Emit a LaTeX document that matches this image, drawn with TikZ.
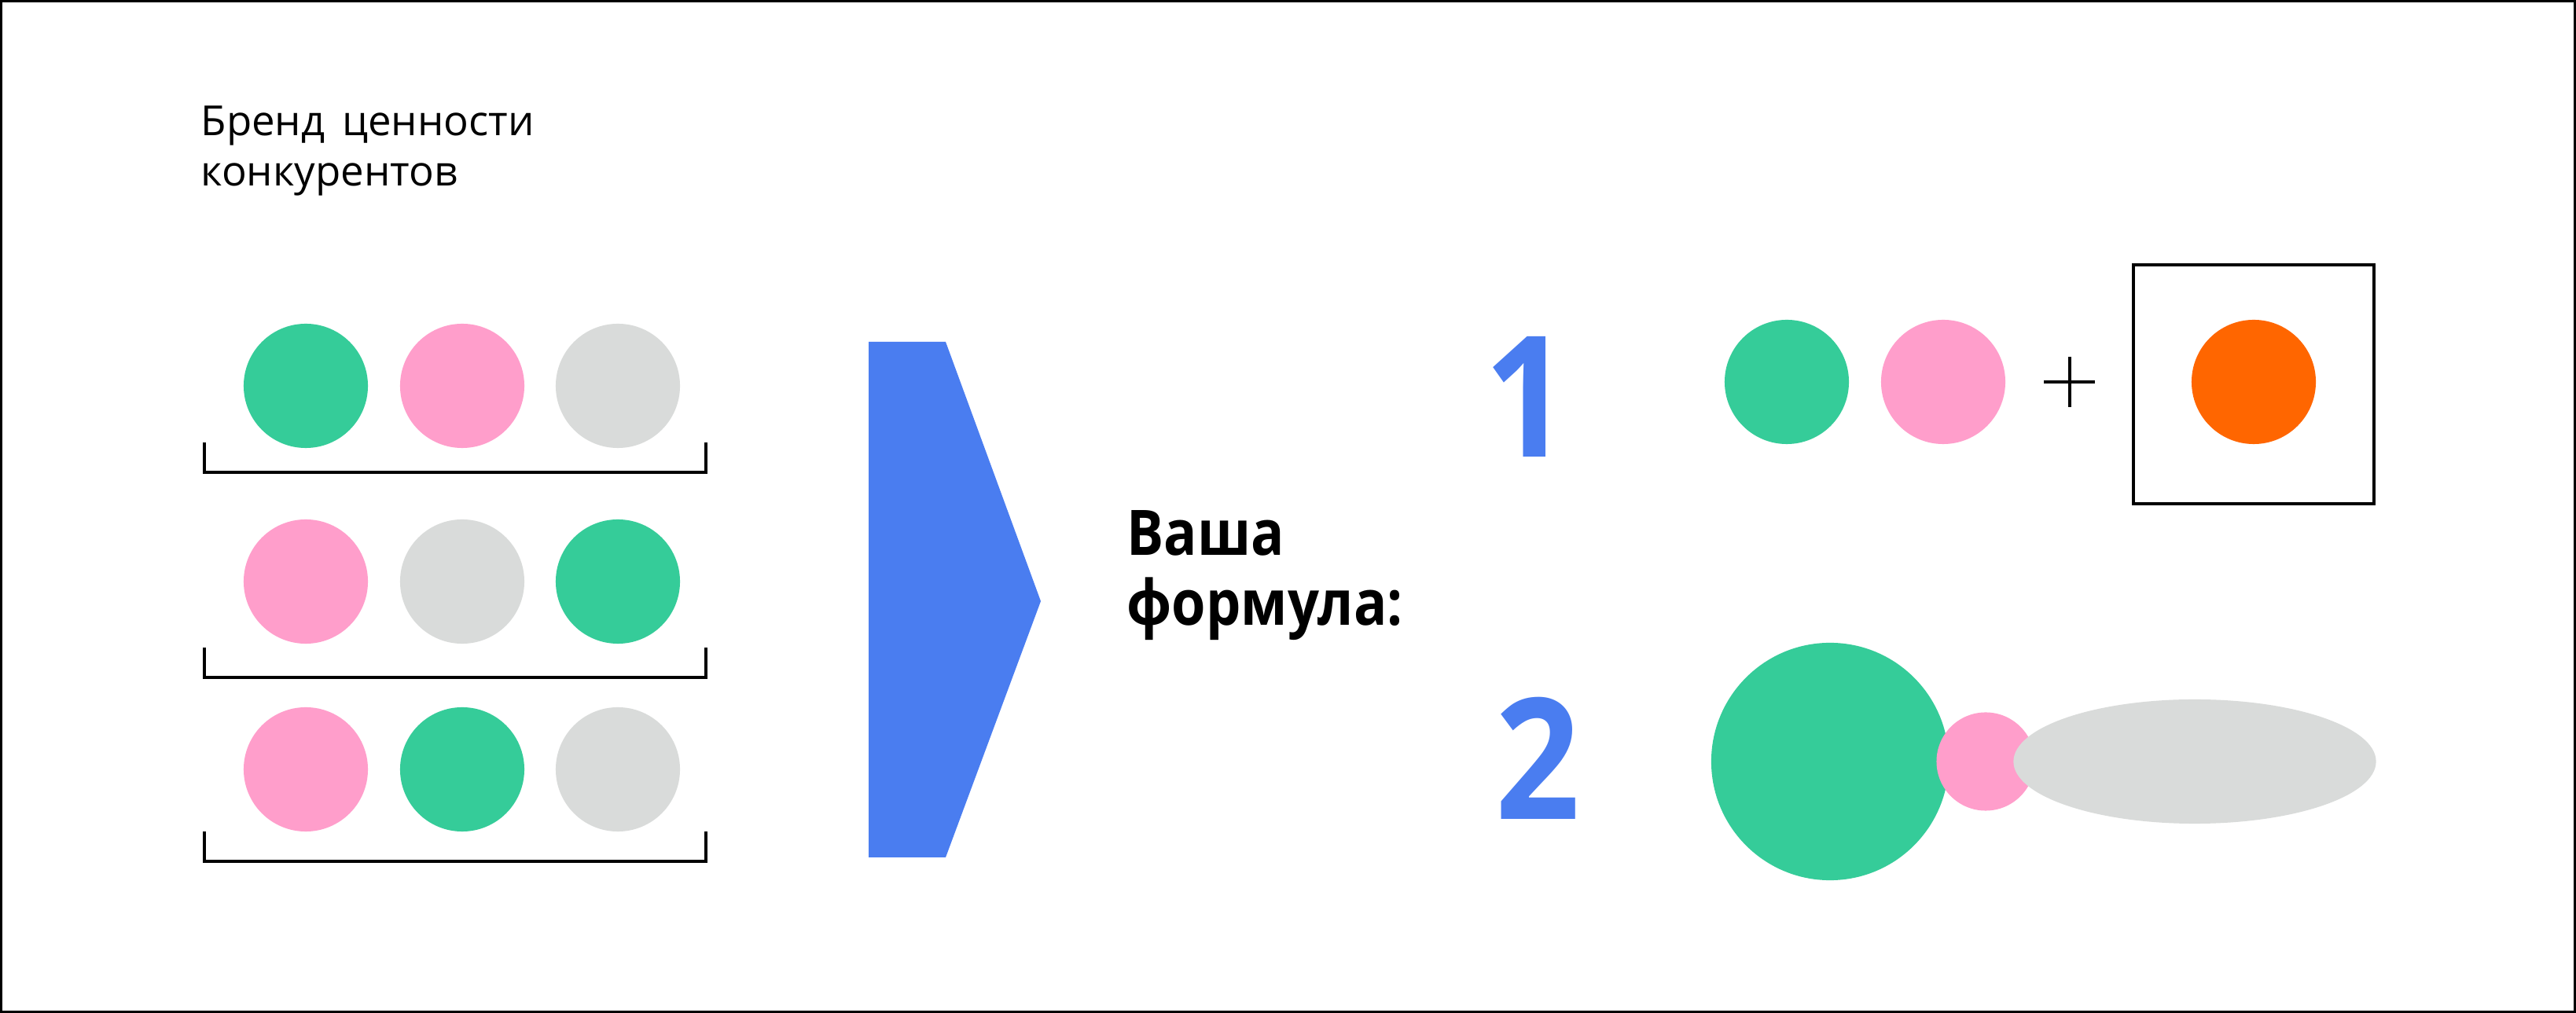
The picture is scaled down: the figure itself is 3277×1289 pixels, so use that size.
\documentclass[tikz,border=0pt]{standalone}
\usepackage{fontspec}
\setmainfont{Open Sans}
\newfontfamily\condfont[FakeStretch=0.88]{Open Sans}
\usetikzlibrary{shapes.geometric}
\definecolor{cgreen}{HTML}{35CC99}
\definecolor{cpink}{HTML}{FF9ECB}
\definecolor{cgray}{HTML}{D9DBDA}
\definecolor{corange}{HTML}{FF6600}
\definecolor{cblue}{HTML}{4A7DF0}
\tikzset{
  dot/.style={circle, inner sep=0pt, draw=none, minimum size=1.58cm},
  bracketline/.style={draw=black, line width=0.9pt},
  numlabel/.style={text=cblue, font=\condfont\fontsize{61}{61}\bfseries\selectfont, inner sep=0pt, anchor=base},
  plainlabel/.style={inner sep=0pt, anchor=base west, align=left},
}
\begin{document}
\begin{tikzpicture}[x=0.01cm, y=-0.01cm]
\useasboundingbox (0,0) rectangle (3277,1289);
\fill[white] (0,0) rectangle (3277,1289);
\draw[line width=0.9pt] (1.5,1.5) rectangle (3275.5,1287.5);

% title
\node[plainlabel, font=\fontsize{15}{18.2}\selectfont] (title1) at (255,173) {Бренд\hspace{0.15em} ценности};
\node[plainlabel, font=\fontsize{15}{18.2}\selectfont] (title2) at (255,237) {конкурентов};

% competitor rows
\node[dot, fill=cgreen] (r1a) at (389,491) {};
\node[dot, fill=cpink]  (r1b) at (588,491) {};
\node[dot, fill=cgray]  (r1c) at (786,491) {};
\node[dot, fill=cpink]  (r2a) at (389,740) {};
\node[dot, fill=cgray]  (r2b) at (588,740) {};
\node[dot, fill=cgreen] (r2c) at (786,740) {};
\node[dot, fill=cpink]  (r3a) at (389,979) {};
\node[dot, fill=cgreen] (r3b) at (588,979) {};
\node[dot, fill=cgray]  (r3c) at (786,979) {};

\draw[bracketline] (260,563) -- (260,601) -- (898,601) -- (898,563);
\draw[bracketline] (260,824) -- (260,862) -- (898,862) -- (898,824);
\draw[bracketline] (260,1058) -- (260,1096) -- (898,1096) -- (898,1058);

% big blue chevron
\fill[cblue] (1105,435) -- (1203,435) -- (1324,765) -- (1203,1091) -- (1105,1091) -- cycle;

% center label
\node[plainlabel, font=\condfont\fontsize{22.7}{25.3}\bfseries\selectfont] (your1) at (1433,707) {Ваша};
\node[plainlabel, font=\condfont\fontsize{22.7}{25.3}\bfseries\selectfont] (your2) at (1433,796) {формула:};

% numbers
\node[numlabel] (n1) at (1942,582) {1};
\node[numlabel] (n2) at (1956,1043) {2};

% formula 1
\node[dot, fill=cgreen] (f1a) at (2273,486) {};
\node[dot, fill=cpink]  (f1b) at (2472,486) {};
\coordinate (plus) at (2633,486);
\draw[line width=0.9pt] (2633,454) -- (2633,518) (2600,486) -- (2665,486);
\node[draw=black, line width=1.1pt, minimum width=3.06cm, minimum height=3.04cm, inner sep=0pt] (box) at (2867,489) {};
\node[dot, fill=corange] (f1c) at (2867,486) {};

% formula 2
\node[dot, fill=cgreen, minimum size=3.02cm] (f2a) at (2328,969) {};
\node[dot, fill=cpink, minimum size=1.25cm] (f2b) at (2526,969) {};
\node[ellipse, fill=cgray, inner sep=0pt, minimum width=4.61cm, minimum height=1.58cm] (f2c) at (2792,969) {};
\end{tikzpicture}
\end{document}
